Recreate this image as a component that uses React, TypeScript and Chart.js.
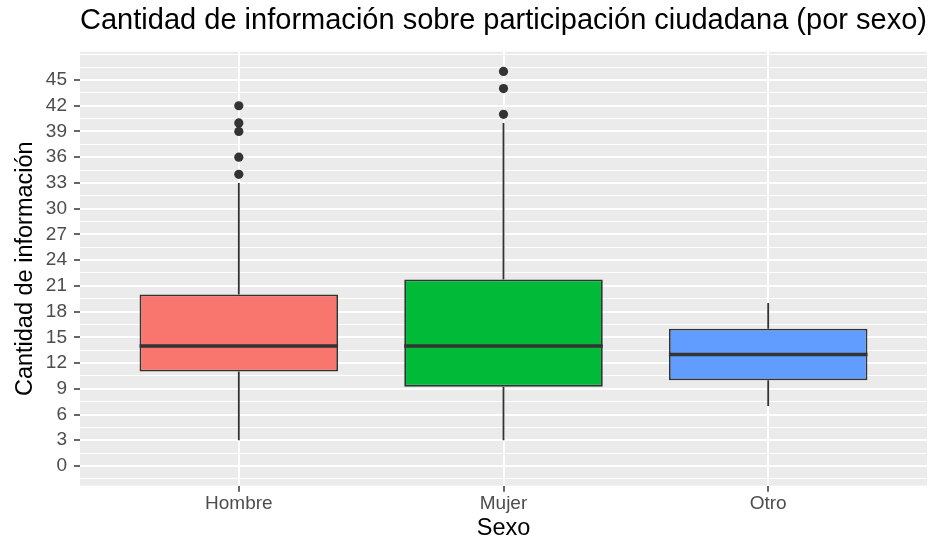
import React, { useEffect, useRef } from "react";
import { Chart, registerables } from "chart.js";

Chart.register(...registerables);

// ---- data ----
const categories = ["Hombre", "Mujer", "Otro"];
const whiskerLow = [3, 3, 7];
const q1 = [11, 9.25, 10];
const medians = [14, 14, 13];
const q3 = [20, 21.75, 16];
const whiskerHigh = [33, 40, 19];
const outliersHombre = [34, 36, 39, 40, 42];
const outliersMujer = [41, 44, 46];
const outliersOtro: number[] = [];
const boxColors = ["#F8766D", "#00BA38", "#619CFF"];
const yTickLabels = [0, 3, 6, 9, 12, 15, 18, 21, 24, 27, 30, 33, 36, 39, 42, 45];
const yMinorTicks = [-1.5, 1.5, 4.5, 7.5, 10.5, 13.5, 16.5, 19.5, 22.5, 25.5, 28.5, 31.5, 34.5, 37.5, 40.5, 43.5, 46.5, 48];

const titleText = "Cantidad de información sobre participación ciudadana (por sexo)";
const xTitle = "Sexo";
const yTitle = "Cantidad de información";

const INK = "#333333";

const panelBg = {
  id: "panelBg",
  beforeDraw(chart: any) {
    const { ctx, chartArea: a } = chart;
    ctx.save();
    ctx.fillStyle = "#EBEBEB";
    ctx.fillRect(a.left, a.top, a.right - a.left, a.bottom - a.top);
    ctx.restore();
  },
};

const boxExtras = {
  id: "boxExtras",
  beforeDatasetsDraw(chart: any) {
    const { ctx } = chart;
    const y = chart.scales.y;
    const meta = chart.getDatasetMeta(0);
    ctx.save();
    ctx.strokeStyle = INK;
    ctx.lineWidth = 1.8;
    meta.data.forEach((el: any, i: number) => {
      const x = el.x;
      ctx.beginPath();
      ctx.moveTo(x, y.getPixelForValue(whiskerLow[i]));
      ctx.lineTo(x, y.getPixelForValue(q1[i]));
      ctx.moveTo(x, y.getPixelForValue(q3[i]));
      ctx.lineTo(x, y.getPixelForValue(whiskerHigh[i]));
      ctx.stroke();
    });
    ctx.restore();
  },
  afterDatasetsDraw(chart: any) {
    const { ctx } = chart;
    const y = chart.scales.y;
    const meta = chart.getDatasetMeta(0);
    ctx.save();
    ctx.strokeStyle = INK;
    ctx.lineWidth = 3.5;
    meta.data.forEach((el: any, i: number) => {
      const py = y.getPixelForValue(medians[i]);
      ctx.beginPath();
      ctx.moveTo(el.x - el.width / 2, py);
      ctx.lineTo(el.x + el.width / 2, py);
      ctx.stroke();
    });
    ctx.restore();
  },
};

export default function App() {
  const ref = useRef<HTMLCanvasElement>(null);

  useEffect(() => {
    document.body.style.margin = "0";
    Chart.defaults.font.family = "'Liberation Sans', Arial, sans-serif";
    const outlierPoints = [
      ...outliersHombre.map((v) => ({ x: 1, y: v })),
      ...outliersMujer.map((v) => ({ x: 2, y: v })),
      ...outliersOtro.map((v) => ({ x: 3, y: v })),
    ];
    const chart = new Chart(ref.current as HTMLCanvasElement, {
      type: "bar",
      data: {
        datasets: [
          {
            type: "bar",
            data: categories.map((_, i) => ({ x: i + 1, y: [q1[i], q3[i]] })) as any,
            backgroundColor: boxColors,
            borderColor: INK,
            borderWidth: 1.8,
            borderSkipped: false,
            barPercentage: 0.75,
            categoryPercentage: 1,
          } as any,
          {
            type: "scatter",
            data: outlierPoints,
            backgroundColor: INK,
            borderColor: INK,
            borderWidth: 0,
            pointRadius: 4.6,
          } as any,
        ],
      },
      options: {
        responsive: false,
        animation: false,
        devicePixelRatio: 1,
        layout: { padding: { left: 0, right: 23, top: 0, bottom: 0 } },
        plugins: {
          legend: { display: false },
          tooltip: { enabled: false },
          title: {
            display: true,
            text: titleText,
            align: "start",
            fullSize: false,
            color: "#000000",
            font: { size: 29.5, weight: "normal" },
            padding: { top: 3.6, bottom: 12.7 },
          },
        },
        scales: {
          x: {
            type: "linear",
            min: 0.4,
            max: 3.6,
            offset: false,
            afterBuildTicks: (s: any) => {
              s.ticks = categories.map((_, i) => ({ value: i + 1 }));
            },
            afterFit: (s: any) => {
              s.height = 60.3;
            },
            ticks: {
              callback: (v: any) => categories[Math.round(v) - 1] ?? "",
              color: "#4D4D4D",
              font: { size: 19 },
              padding: 1,
              autoSkip: false,
              maxRotation: 0,
            },
            grid: {
              offset: false,
              color: "#FFFFFF",
              lineWidth: 2,
              tickLength: 6,
              tickColor: INK,
              tickWidth: 1.5,
            },
            border: { display: false },
            title: {
              display: true,
              text: xTitle,
              color: "#000000",
              font: { size: 23.5 },
              padding: { top: 0, bottom: 3 },
            },
          },
          y: {
            type: "linear",
            min: -2.3,
            max: 48.3,
            afterBuildTicks: (s: any) => {
              s.ticks = [...yMinorTicks, ...yTickLabels]
                .sort((a, b) => a - b)
                .map((v) => ({ value: v }));
            },
            afterFit: (s: any) => {
              s.width = 80;
            },
            ticks: {
              callback: (v: any) => (yTickLabels.includes(v) ? String(v) : ""),
              color: "#4D4D4D",
              font: { size: 19 },
              padding: 7,
              autoSkip: false,
            },
            grid: {
              color: "#FFFFFF",
              lineWidth: (c: any) => (yTickLabels.includes(c.tick?.value) ? 2 : 1),
              tickLength: 6,
              tickColor: (c: any) => (yTickLabels.includes(c.tick?.value) ? INK : "rgba(0,0,0,0)"),
              tickWidth: 1.5,
            },
            border: { display: false },
            title: {
              display: true,
              text: yTitle,
              color: "#000000",
              font: { size: 23.5 },
              padding: { top: 11.1, bottom: 0 },
            },
          },
        },
      } as any,
      plugins: [panelBg, boxExtras],
    });
    return () => chart.destroy();
  }, []);

  return (
    <div style={{ width: 950, height: 546 }}>
      <canvas ref={ref} width={950} height={546} />
    </div>
  );
}
